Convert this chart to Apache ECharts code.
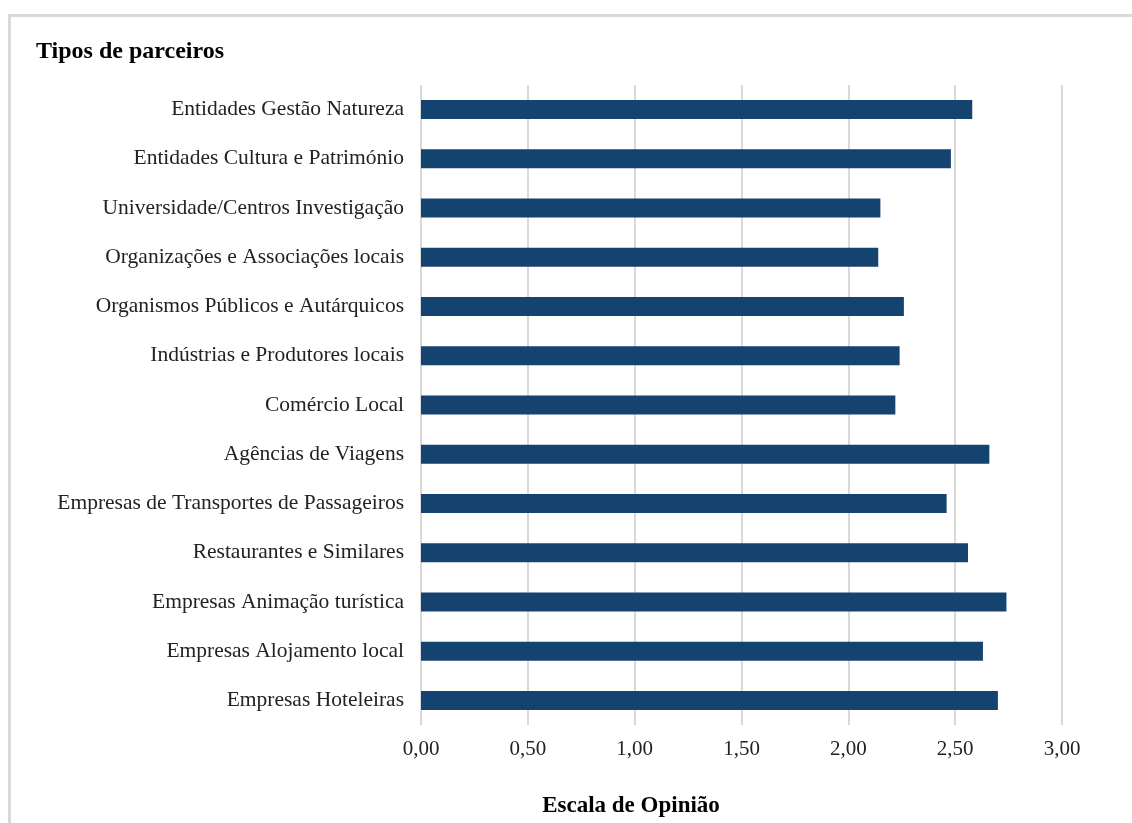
<!DOCTYPE html>
<html>
<head>
<meta charset="utf-8">
<script src="https://cdn.jsdelivr.net/npm/echarts@6/dist/echarts.min.js"></script>
<style>
  html, body { margin: 0; padding: 0; background: #ffffff; }
  #chart { width: 1132px; height: 823px; }
</style>
</head>
<body>
<div id="chart"></div>
<script>
// Partner types (top to bottom) and their mean opinion score
const categories = [
  'Entidades Gestão Natureza',
  'Entidades Cultura e Património',
  'Universidade/Centros Investigação',
  'Organizações e Associações locais',
  'Organismos Públicos e Autárquicos',
  'Indústrias e Produtores locais',
  'Comércio Local',
  'Agências de Viagens',
  'Empresas de Transportes de Passageiros',
  'Restaurantes e Similares',
  'Empresas Animação turística',
  'Empresas Alojamento local',
  'Empresas Hoteleiras'
];
const scores = [2.58, 2.48, 2.15, 2.14, 2.26, 2.24, 2.22, 2.66, 2.46, 2.56, 2.74, 2.63, 2.70];

const chartTitle = 'Tipos de parceiros';
const axisTitle = 'Escala de Opinião';

const serif = '"Liberation Serif", "Times New Roman", serif';
const chart = echarts.init(document.getElementById('chart'), null, { renderer: 'canvas' });

chart.setOption({
  backgroundColor: '#ffffff',
  animation: false,
  title: {
    text: chartTitle,
    left: 31,
    top: 35,
    textStyle: { fontFamily: serif, fontSize: 24, fontWeight: 'bold', color: '#000000' }
  },
  graphic: [
    {
      type: 'rect',
      silent: true,
      shape: { x: 9.5, y: 15.5, width: 1200, height: 900 },
      style: { fill: 'none', stroke: '#d9d9d9', lineWidth: 3 }
    },
    {
      type: 'text',
      silent: true,
      x: 631,
      y: 806,
      style: {
        text: axisTitle,
        font: 'bold 23px ' + serif,
        fill: '#000000',
        textAlign: 'center',
        textVerticalAlign: 'middle'
      }
    }
  ],
  grid: { left: 421, right: 70, top: 85, bottom: 98, containLabel: false },
  xAxis: {
    type: 'value',
    min: 0,
    max: 3,
    interval: 0.5,
    axisLine: { show: false },
    axisTick: { show: false },
    splitLine: { show: true, lineStyle: { color: '#d9d9d9', width: 2 } },
    axisLabel: {
      margin: 14,
      fontFamily: serif,
      fontSize: 21,
      color: '#222222',
      formatter: v => v.toFixed(2).replace('.', ',')
    }
  },
  yAxis: {
    type: 'category',
    data: categories,
    inverse: true,
    axisLine: { show: false },
    axisTick: { show: false },
    axisLabel: { margin: 17, fontFamily: serif, fontSize: 21.5, color: '#222222' }
  },
  series: [{
    type: 'bar',
    data: scores,
    barWidth: 19,
    itemStyle: { color: '#144370' }
  }]
});
</script>
</body>
</html>
